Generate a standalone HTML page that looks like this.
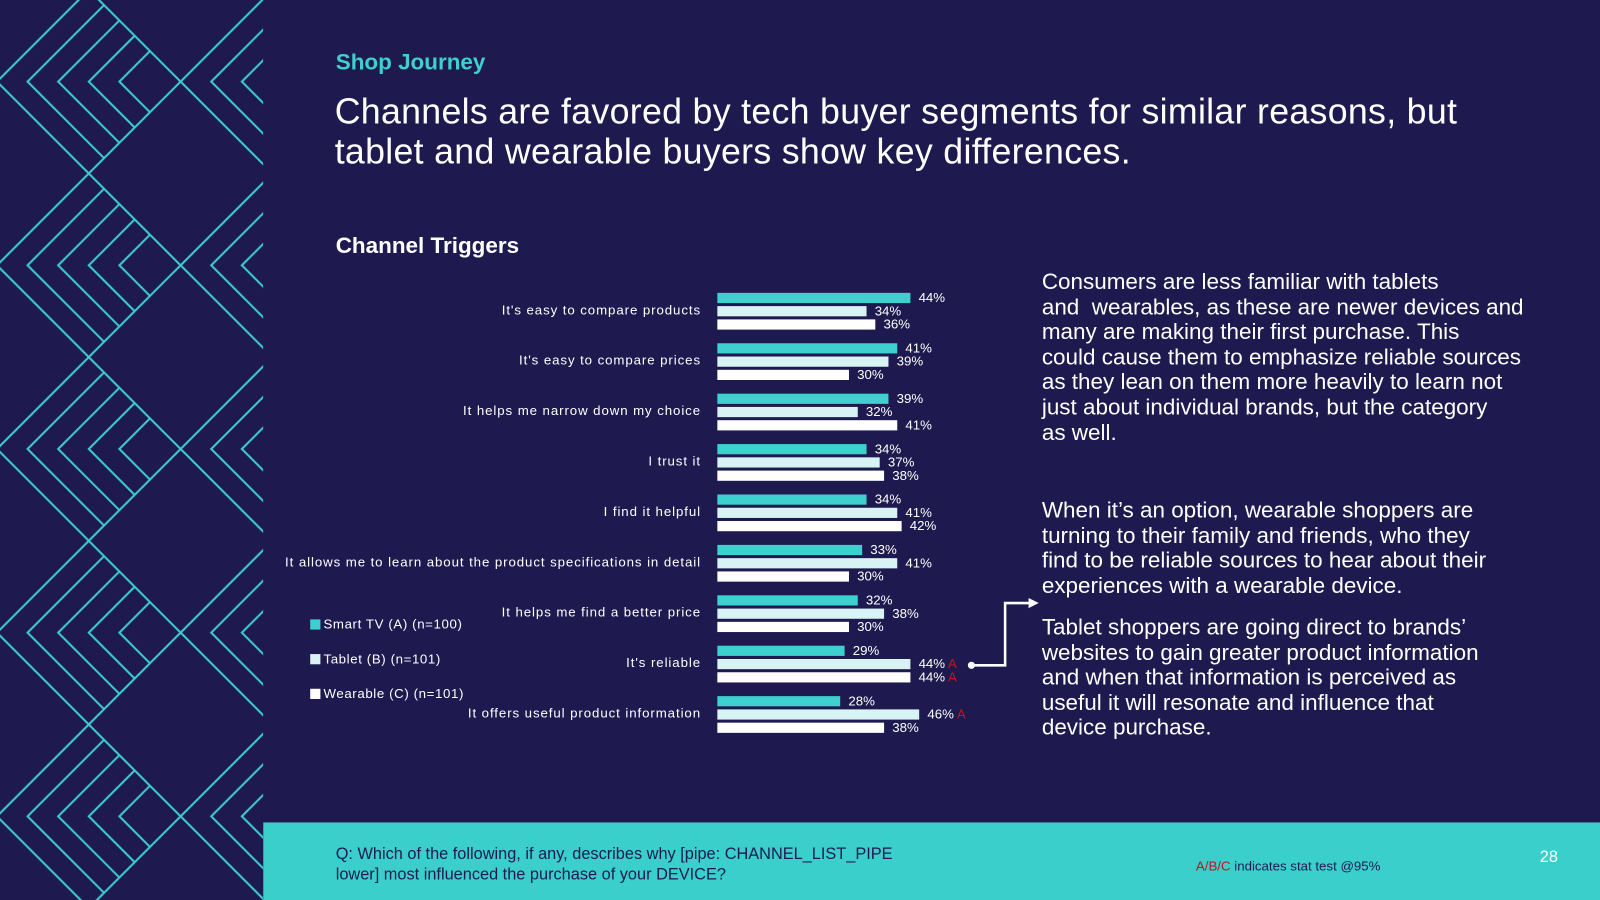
<!DOCTYPE html>
<html><head><meta charset="utf-8"><style>
html,body{margin:0;padding:0;background:#1e1a4f;overflow:hidden}
#wrap{position:absolute;left:0;top:0;width:1568px;height:882px;transform:scale(1.020408);transform-origin:0 0;background:#1e1a4f;font-family:"Liberation Sans","DejaVu Sans",sans-serif;color:#fff}
.abs{position:absolute}
.ins{font-size:22px;line-height:24.6px;width:540px;white-space:nowrap}
</style></head><body>
<div id="wrap">
<svg class="abs" style="left:0;top:0" width="258" height="882">
<defs><pattern id="p" width="180" height="180" patternUnits="userSpaceOnUse" patternTransform="translate(-8,-10)">
<g fill="none" stroke="#3ccbd0" stroke-width="2">
<path d="M95,0 L5,90 L95,180"/><path d="M110,15 L35,90 L110,165"/><path d="M125,30 L65,90 L125,150"/><path d="M140,45 L95,90 L140,135"/><path d="M155,60 L125,90 L155,120"/>
<path d="M95,0 L185,90"/><path d="M95,180 L185,90"/>
<path d="M-85,0 L5,90 L-85,180"/>
</g></pattern></defs>
<rect width="258" height="882" fill="#1e1a4f"/>
<rect width="258" height="882" fill="url(#p)"/>
</svg>
<div class="abs" style="left:329px;top:48px;font-size:22px;font-weight:bold;color:#3ecfcf">Shop Journey</div>
<div class="abs" style="left:328px;top:90px;font-size:35px;line-height:39px;width:1200px;white-space:nowrap;letter-spacing:0.3px">Channels are favored by tech buyer segments for similar reasons, but<br>tablet and wearable buyers show key differences.</div>
<div class="abs" style="left:329px;top:228px;font-size:22px;font-weight:bold">Channel Triggers</div>

<svg id="chart" class="abs" style="left:0;top:0" width="1568" height="882"></svg>

<div class="abs ins" style="left:1021px;top:264px">Consumers are less familiar with tablets<br>and&nbsp; wearables, as these are newer devices and<br>many are making their first purchase. This<br>could cause them to emphasize reliable sources<br>as they lean on them more heavily to learn not<br>just about individual brands, but the category<br>as well.</div>
<div class="abs ins" style="left:1021px;top:488px">When it’s an option, wearable shoppers are<br>turning to their family and friends, who they<br>find to be reliable sources to hear about their<br>experiences with a wearable device.</div>
<div class="abs ins" style="left:1021px;top:603px">Tablet shoppers are going direct to brands’<br>websites to gain greater product information<br>and when that information is perceived as<br>useful it will resonate and influence that<br>device purchase.</div>

<div class="abs" style="left:258px;top:806px;width:1310px;height:76px;background:#3bcfcc"></div>
<div class="abs" style="left:329px;top:828px;font-size:16px;line-height:20px;color:#1e1a4f;white-space:nowrap">Q: Which of the following, if any, describes why [pipe: CHANNEL_LIST_PIPE<br>lower] most influenced the purchase of your DEVICE?</div>
<div class="abs" style="left:1172px;top:841px;font-size:13px;color:#1e1a4f"><span style="color:#c0141e">A/B/C</span> indicates stat test @95%</div>
<div class="abs" style="left:1509px;top:832px;font-size:16px;color:#fff">28</div>
</div>
<script>
const categories=["It's easy to compare products","It's easy to compare prices","It helps me narrow down my choice","I trust it","I find it helpful","It allows me to learn about the product specifications in detail","It helps me find a better price","It's reliable","It offers useful product information"];
const smartTV=[44,41,39,34,34,33,32,29,28];
const tablet=[34,39,32,37,41,41,38,44,46];
const wearable=[36,30,41,38,42,30,30,44,38];
const tabletSig=["","","","","","","","A","A"];
const wearableSig=["","","","","","","","A",""];
const seriesNames=["Smart TV (A) (n=100)","Tablet (B) (n=101)","Wearable (C) (n=101)"];
const NS="http://www.w3.org/2000/svg";
const svg=document.getElementById('chart');
const x0=703,pxPer=4.3;
const xs=v=>x0+v*pxPer;
const yc=i=>304+i*49.4;
function mk(t,a){const e=document.createElementNS(NS,t);for(const k in a)e.setAttribute(k,a[k]);svg.appendChild(e);return e;}
const series=[smartTV,tablet,wearable],colors=["#3ecfcf","#d8f3f3","#ffffff"],sigs=[null,tabletSig,wearableSig],offs=[-17,-4,9];
categories.forEach((c,i)=>{
  const t=mk('text',{x:687,y:yc(i)+4,'text-anchor':'end','font-size':13,fill:'#fff','letter-spacing':'0.9'});t.textContent=c;
  
  
  series.forEach((s,j)=>{
    const r=mk('rect',{x:x0,y:yc(i)+offs[j],width:xs(s[i])-x0,height:10,fill:colors[j]});
    
    
    const l=mk('text',{x:xs(s[i])+8,y:yc(i)+offs[j]+9,'font-size':13,fill:'#fff'});
    l.textContent=s[i]+'%';
    
    
    if(sigs[j]&&sigs[j][i]){const ts=document.createElementNS(NS,'tspan');ts.setAttribute('fill','#c0141e');ts.textContent=' '+sigs[j][i];l.appendChild(ts);}
  });
});
seriesNames.forEach((n,j)=>{
  const r=mk('rect',{x:304,y:607+j*34,width:10,height:10,fill:colors[j]});
  
  
  const t=mk('text',{x:317,y:616+j*34,'font-size':13,fill:'#fff','letter-spacing':'0.6'});t.textContent=n;
  
  
});
const a=mk('path',{d:'M952,652 L985,652 L985,591 L1010,591',fill:'none',stroke:'#fff','stroke-width':2.5});


mk('circle',{cx:952,cy:652,r:3.5,fill:'#fff'});
mk('path',{d:'M1018,591 L1008,586 L1008,596 Z',fill:'#fff'});
</script>
</body></html>
